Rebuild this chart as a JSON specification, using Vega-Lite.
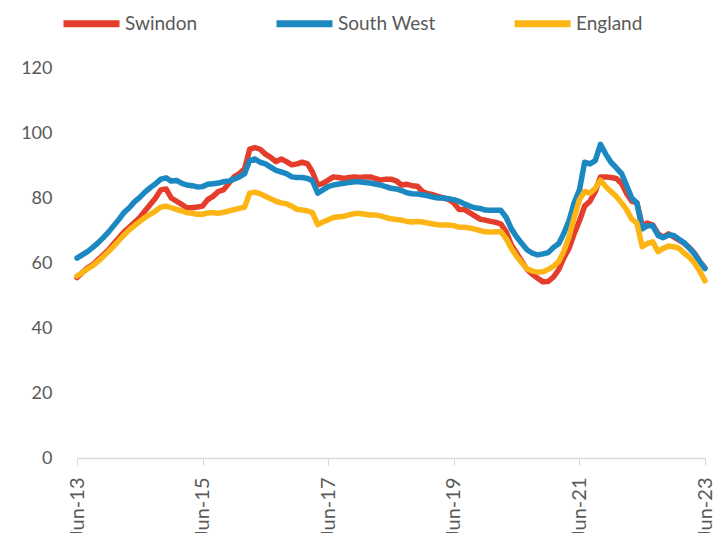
{
  "$schema": "https://vega.github.io/schema/vega-lite/v6.json",
  "autosize": "none",
  "width": 628,
  "height": 390,
  "padding": {"left": 77, "top": 68, "right": 23, "bottom": 75},
  "background": "white",
  "config": {"view": {"stroke": null}, "font": "Lato"},
  "data": {"values": [
    {"d":"2013-06-01","Swindon":55.5,"South West":61.5,"England":56},
    {"d":"2013-07-01","Swindon":57,"South West":62.5,"England":57},
    {"d":"2013-08-01","Swindon":58.5,"South West":63.5,"England":58.2},
    {"d":"2013-09-01","Swindon":59.5,"South West":64.8,"England":59.2},
    {"d":"2013-10-01","Swindon":61,"South West":66.2,"England":60.5},
    {"d":"2013-11-01","Swindon":62.5,"South West":67.8,"England":62},
    {"d":"2013-12-01","Swindon":64,"South West":69.5,"England":63.5},
    {"d":"2014-01-01","Swindon":66,"South West":71.5,"England":65.2},
    {"d":"2014-02-01","Swindon":67.8,"South West":73.5,"England":67},
    {"d":"2014-03-01","Swindon":69.5,"South West":75.5,"England":68.6},
    {"d":"2014-04-01","Swindon":71,"South West":77,"England":70.2},
    {"d":"2014-05-01","Swindon":72.5,"South West":78.8,"England":71.5},
    {"d":"2014-06-01","Swindon":74,"South West":80.2,"England":72.8},
    {"d":"2014-07-01","Swindon":76,"South West":81.8,"England":74},
    {"d":"2014-08-01","Swindon":78,"South West":83.2,"England":75},
    {"d":"2014-09-01","Swindon":80,"South West":84.4,"England":76},
    {"d":"2014-10-01","Swindon":82.5,"South West":85.8,"England":77.2},
    {"d":"2014-11-01","Swindon":82.8,"South West":86.2,"England":77.5},
    {"d":"2014-12-01","Swindon":80,"South West":85.2,"England":77},
    {"d":"2015-01-01","Swindon":79,"South West":85.4,"England":76.5},
    {"d":"2015-02-01","Swindon":78,"South West":84.5,"England":76},
    {"d":"2015-03-01","Swindon":77,"South West":84,"England":75.5},
    {"d":"2015-04-01","Swindon":77,"South West":83.8,"England":75.3},
    {"d":"2015-05-01","Swindon":77.2,"South West":83.4,"England":75},
    {"d":"2015-06-01","Swindon":77.5,"South West":83.5,"England":75},
    {"d":"2015-07-01","Swindon":79.5,"South West":84.2,"England":75.4},
    {"d":"2015-08-01","Swindon":80.5,"South West":84.4,"England":75.5},
    {"d":"2015-09-01","Swindon":82,"South West":84.6,"England":75.3},
    {"d":"2015-10-01","Swindon":82.5,"South West":85,"England":75.6},
    {"d":"2015-11-01","Swindon":84.5,"South West":85.2,"England":76},
    {"d":"2015-12-01","Swindon":86.5,"South West":85.8,"England":76.4},
    {"d":"2016-01-01","Swindon":87.5,"South West":86.5,"England":76.8},
    {"d":"2016-02-01","Swindon":89,"South West":87.5,"England":77.2},
    {"d":"2016-03-01","Swindon":95,"South West":91.5,"England":81.5},
    {"d":"2016-04-01","Swindon":95.5,"South West":92,"England":81.8},
    {"d":"2016-05-01","Swindon":95,"South West":91,"England":81.3},
    {"d":"2016-06-01","Swindon":93.5,"South West":90.5,"England":80.5},
    {"d":"2016-07-01","Swindon":92.5,"South West":89.5,"England":79.8},
    {"d":"2016-08-01","Swindon":91.2,"South West":88.5,"England":79},
    {"d":"2016-09-01","Swindon":92,"South West":88,"England":78.5},
    {"d":"2016-10-01","Swindon":91.2,"South West":87.5,"England":78.2},
    {"d":"2016-11-01","Swindon":90.2,"South West":86.5,"England":77.5},
    {"d":"2016-12-01","Swindon":90.5,"South West":86.3,"England":76.5},
    {"d":"2017-01-01","Swindon":91,"South West":86.3,"England":76.3},
    {"d":"2017-02-01","Swindon":90.5,"South West":86,"England":76},
    {"d":"2017-03-01","Swindon":88,"South West":85.3,"England":75.5},
    {"d":"2017-04-01","Swindon":84,"South West":81.5,"England":71.8},
    {"d":"2017-05-01","Swindon":84.5,"South West":82.5,"England":72.6},
    {"d":"2017-06-01","Swindon":85.5,"South West":83.5,"England":73.3},
    {"d":"2017-07-01","Swindon":86.5,"South West":84,"England":74},
    {"d":"2017-08-01","Swindon":86.3,"South West":84.3,"England":74.2},
    {"d":"2017-09-01","Swindon":86,"South West":84.5,"England":74.4},
    {"d":"2017-10-01","Swindon":86.3,"South West":84.8,"England":74.8},
    {"d":"2017-11-01","Swindon":86.5,"South West":85,"England":75.2},
    {"d":"2017-12-01","Swindon":86.3,"South West":85,"England":75.2},
    {"d":"2018-01-01","Swindon":86.5,"South West":84.8,"England":75},
    {"d":"2018-02-01","Swindon":86.5,"South West":84.6,"England":74.8},
    {"d":"2018-03-01","Swindon":86,"South West":84.3,"England":74.8},
    {"d":"2018-04-01","Swindon":85.5,"South West":84,"England":74.5},
    {"d":"2018-05-01","Swindon":85.8,"South West":83.5,"England":74},
    {"d":"2018-06-01","Swindon":85.8,"South West":83,"England":73.6},
    {"d":"2018-07-01","Swindon":85.3,"South West":82.8,"England":73.4},
    {"d":"2018-08-01","Swindon":84,"South West":82.3,"England":73.2},
    {"d":"2018-09-01","Swindon":84.2,"South West":81.6,"England":72.8},
    {"d":"2018-10-01","Swindon":83.8,"South West":81.3,"England":72.6},
    {"d":"2018-11-01","Swindon":83.6,"South West":81.2,"England":72.8},
    {"d":"2018-12-01","Swindon":82,"South West":81,"England":72.6},
    {"d":"2019-01-01","Swindon":81.3,"South West":80.7,"England":72.3},
    {"d":"2019-02-01","Swindon":81,"South West":80.3,"England":72},
    {"d":"2019-03-01","Swindon":80.5,"South West":80,"England":71.8},
    {"d":"2019-04-01","Swindon":80,"South West":80,"England":71.7},
    {"d":"2019-05-01","Swindon":79.6,"South West":79.8,"England":71.7},
    {"d":"2019-06-01","Swindon":78.5,"South West":79.5,"England":71.5},
    {"d":"2019-07-01","Swindon":76.5,"South West":79,"England":71},
    {"d":"2019-08-01","Swindon":76.5,"South West":78.2,"England":71},
    {"d":"2019-09-01","Swindon":75.5,"South West":77.5,"England":70.8},
    {"d":"2019-10-01","Swindon":74.5,"South West":77,"England":70.4},
    {"d":"2019-11-01","Swindon":73.5,"South West":76.8,"England":70},
    {"d":"2019-12-01","Swindon":73.2,"South West":76.3,"England":69.6},
    {"d":"2020-01-01","Swindon":72.8,"South West":76.2,"England":69.5},
    {"d":"2020-02-01","Swindon":72.5,"South West":76.2,"England":69.6},
    {"d":"2020-03-01","Swindon":72,"South West":76.2,"England":69.6},
    {"d":"2020-04-01","Swindon":69.5,"South West":74,"England":67.5},
    {"d":"2020-05-01","Swindon":65.5,"South West":70.5,"England":64.5},
    {"d":"2020-06-01","Swindon":63,"South West":68,"England":62},
    {"d":"2020-07-01","Swindon":60.5,"South West":66,"England":60},
    {"d":"2020-08-01","Swindon":58,"South West":64,"England":58.2},
    {"d":"2020-09-01","Swindon":56.5,"South West":63,"England":57.5},
    {"d":"2020-10-01","Swindon":55.3,"South West":62.5,"England":57.2},
    {"d":"2020-11-01","Swindon":54.2,"South West":62.8,"England":57.3},
    {"d":"2020-12-01","Swindon":54.3,"South West":63.2,"England":58},
    {"d":"2021-01-01","Swindon":55.7,"South West":64.8,"England":59},
    {"d":"2021-02-01","Swindon":58,"South West":66,"England":60.5},
    {"d":"2021-03-01","Swindon":61.5,"South West":69,"England":63.5},
    {"d":"2021-04-01","Swindon":64.5,"South West":73,"England":68},
    {"d":"2021-05-01","Swindon":69,"South West":78.5,"England":74},
    {"d":"2021-06-01","Swindon":73,"South West":82.5,"England":79.5},
    {"d":"2021-07-01","Swindon":77.5,"South West":91,"England":82},
    {"d":"2021-08-01","Swindon":79,"South West":90.5,"England":81.5},
    {"d":"2021-09-01","Swindon":82,"South West":91.5,"England":83},
    {"d":"2021-10-01","Swindon":86.5,"South West":96.5,"England":85.5},
    {"d":"2021-11-01","Swindon":86.5,"South West":93.5,"England":83.5},
    {"d":"2021-12-01","Swindon":86.3,"South West":91,"England":82},
    {"d":"2022-01-01","Swindon":86,"South West":89.3,"England":80.5},
    {"d":"2022-02-01","Swindon":84.5,"South West":87.5,"England":78.5},
    {"d":"2022-03-01","Swindon":81.5,"South West":84,"England":76.5},
    {"d":"2022-04-01","Swindon":79,"South West":80,"England":73.5},
    {"d":"2022-05-01","Swindon":78.5,"South West":78.5,"England":72.3},
    {"d":"2022-06-01","Swindon":71.5,"South West":70.5,"England":65},
    {"d":"2022-07-01","Swindon":72.3,"South West":71.5,"England":66},
    {"d":"2022-08-01","Swindon":71.7,"South West":71.5,"England":66.5},
    {"d":"2022-09-01","Swindon":69,"South West":68.5,"England":63.5},
    {"d":"2022-10-01","Swindon":68,"South West":67.8,"England":64.5},
    {"d":"2022-11-01","Swindon":69,"South West":68.6,"England":65.2},
    {"d":"2022-12-01","Swindon":68,"South West":68.5,"England":65},
    {"d":"2023-01-01","Swindon":67,"South West":67.3,"England":64.5},
    {"d":"2023-02-01","Swindon":66,"South West":66.2,"England":63},
    {"d":"2023-03-01","Swindon":64.8,"South West":64.6,"England":61.8},
    {"d":"2023-04-01","Swindon":63,"South West":62.8,"England":60},
    {"d":"2023-05-01","Swindon":60.5,"South West":60.5,"England":57.5},
    {"d":"2023-06-01","Swindon":58.5,"South West":58.3,"England":54.5}
  ]},
  "transform": [{"fold": ["Swindon", "South West", "England"], "as": ["series", "value"]}],
  "mark": {"type": "line", "strokeWidth": 5.5, "strokeCap": "round", "strokeJoin": "round"},
  "encoding": {
    "x": {
      "field": "d", "type": "temporal",
      "scale": {"domain": ["2013-06-01", "2023-06-01"]},
      "axis": {
        "title": null, "grid": false,
        "values": [
          {"year": 2013, "month": 6, "date": 1},
          {"year": 2015, "month": 6, "date": 1},
          {"year": 2017, "month": 6, "date": 1},
          {"year": 2019, "month": 6, "date": 1},
          {"year": 2021, "month": 6, "date": 1},
          {"year": 2023, "month": 6, "date": 1}
        ],
        "format": "%b-%y", "labelAngle": -90, "labelAlign": "right", "labelBaseline": "middle",
        "labelFontSize": 20, "labelColor": "#595959", "labelPadding": 12,
        "domainColor": "#d9d9d9", "domainWidth": 1.5, "tickColor": "#d9d9d9", "tickSize": 7,
        "labelOverlap": false, "labelFlush": false
      }
    },
    "y": {
      "field": "value", "type": "quantitative",
      "scale": {"domain": [0, 120], "nice": false},
      "axis": {
        "title": null, "grid": false, "domain": false, "ticks": false,
        "values": [0, 20, 40, 60, 80, 100, 120],
        "labelFontSize": 18, "labelColor": "#595959", "labelPadding": 25
      }
    },
    "color": {
      "field": "series", "type": "nominal",
      "scale": {"domain": ["Swindon", "South West", "England"], "range": ["#E43D2B", "#1B88C2", "#FDB515"]},
      "legend": {
        "title": null, "orient": "none", "direction": "horizontal",
        "legendX": -17, "legendY": -76,
        "symbolType": "stroke", "symbolSize": 3136, "symbolStrokeWidth": 7,
        "labelFontSize": 19, "labelColor": "#595959", "labelOffset": 2,
        "columnPadding": 64
      }
    }
  }
}
